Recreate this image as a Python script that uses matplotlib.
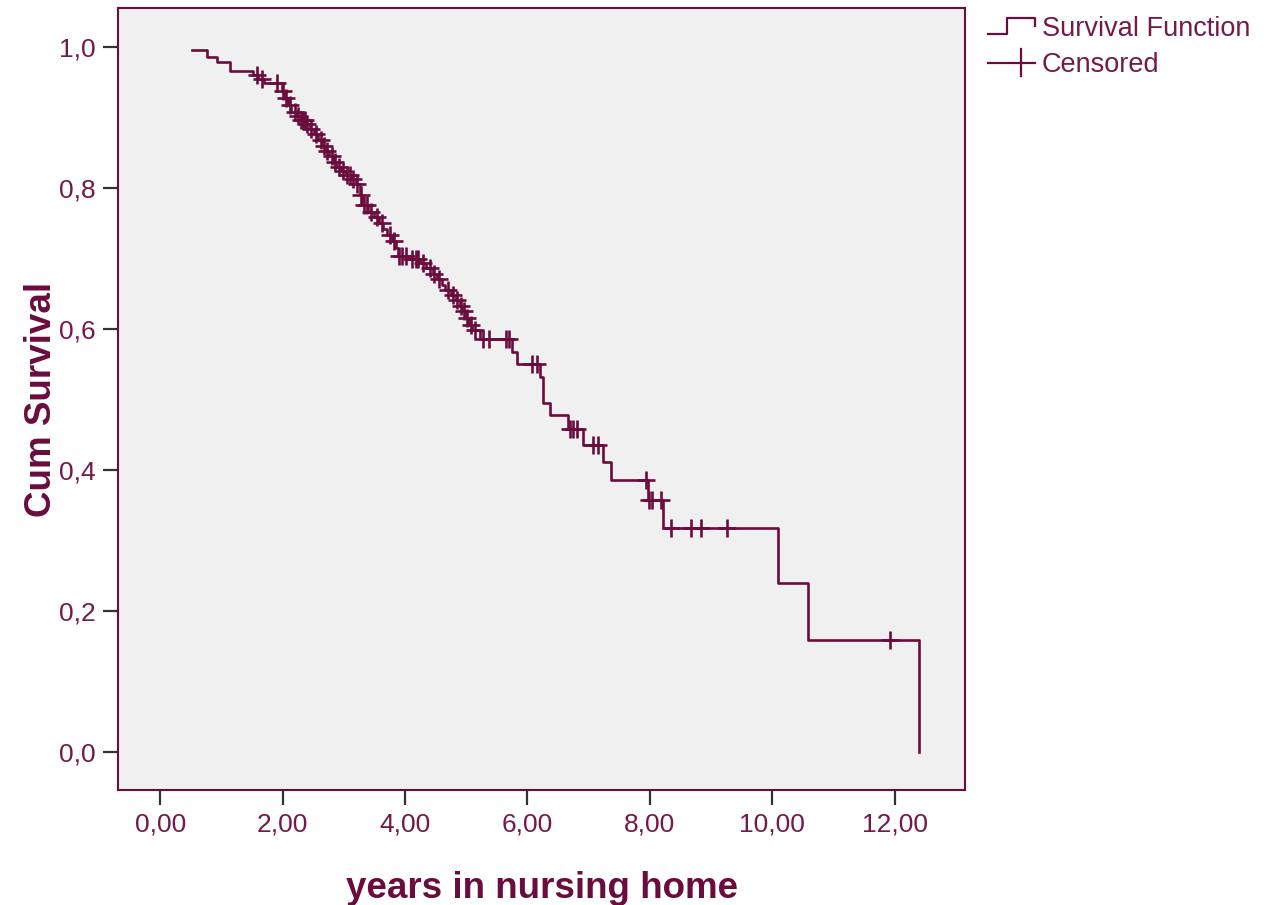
import numpy as np
import matplotlib
matplotlib.use("Agg")
import matplotlib.pyplot as plt
from matplotlib.lines import Line2D
from matplotlib.legend_handler import HandlerBase

# ---- data ----
step_times = [0.52, 0.76, 0.93, 1.14, 1.52, 1.60, 1.69, 1.99, 2.03, 2.08, 2.13, 2.22,
              2.30, 2.38, 2.45, 2.52, 2.58, 2.64, 2.70, 2.76, 2.82, 2.88, 2.95, 3.03,
              3.12, 3.20, 3.27, 3.29, 3.40, 3.50, 3.57, 3.64, 3.70, 3.79, 3.85, 3.88,
              4.08, 4.25, 4.35, 4.45, 4.53, 4.60, 4.66, 4.75, 4.83, 4.90, 4.95, 5.00,
              5.04, 5.10, 5.23, 5.74, 5.83, 6.21, 6.25, 6.37, 6.67, 6.90, 7.23, 7.36,
              7.97, 8.22, 10.09, 10.58, 12.40]
step_surv = [0.995, 0.986, 0.978, 0.966, 0.960, 0.955, 0.948, 0.938, 0.928, 0.918, 0.908, 0.902,
             0.896, 0.890, 0.884, 0.876, 0.868, 0.860, 0.852, 0.845, 0.837, 0.830, 0.824, 0.818,
             0.812, 0.805, 0.790, 0.776, 0.766, 0.758, 0.750, 0.741, 0.733, 0.724, 0.714, 0.704,
             0.699, 0.693, 0.686, 0.678, 0.670, 0.662, 0.655, 0.648, 0.641, 0.633, 0.625, 0.615,
             0.605, 0.598, 0.585, 0.567, 0.550, 0.532, 0.495, 0.478, 0.458, 0.435, 0.411, 0.386,
             0.357, 0.318, 0.239, 0.159, 0.0]
censor_times = [1.58, 1.67, 1.90, 2.01, 2.05, 2.12, 2.20, 2.25, 2.30, 2.33, 2.37, 2.40,
                2.47, 2.55, 2.62, 2.68, 2.72, 2.80, 2.85, 2.92, 2.98, 3.05, 3.10, 3.15,
                3.22, 3.28, 3.33, 3.38, 3.45, 3.55, 3.62, 3.75, 3.82, 3.90, 3.95, 4.02,
                4.12, 4.18, 4.22, 4.30, 4.40, 4.48, 4.55, 4.70, 4.78, 4.85, 4.92, 4.97,
                5.02, 5.08, 5.15, 5.28, 5.37, 5.65, 5.70, 6.08, 6.15, 6.70, 6.75, 6.81,
                7.07, 7.15, 7.94, 7.99, 8.03, 8.19, 8.34, 8.68, 8.84, 9.26, 11.92]
x_ticks = [0, 2, 4, 6, 8, 10, 12]
x_ticklabels = ["0,00", "2,00", "4,00", "6,00", "8,00", "10,00", "12,00"]
y_ticks = [0.0, 0.2, 0.4, 0.6, 0.8, 1.0]
y_ticklabels = ["0,0", "0,2", "0,4", "0,6", "0,8", "1,0"]

MAROON = "#6a0c3c"
TXT = "#741a48"

st = np.array(step_times)
ss = np.array(step_surv)
ct = np.array(censor_times)
idx = np.searchsorted(st, ct, side="right") - 1
cs = ss[idx]

plt.rcParams["font.family"] = ["Liberation Sans", "DejaVu Sans"]

fig = plt.figure(figsize=(12.66, 9.05), dpi=100)
ax = fig.add_axes([118/1266, 1-790/905, (965-118)/1266, (790-8)/905])
ax.set_facecolor("#f0f0f0")

ax.step(st, ss, where="post", color=MAROON, lw=1.9, zorder=3)
ax.plot(ct, cs, linestyle="none", marker="+", markersize=13, markeredgewidth=1.9,
        color=MAROON, zorder=4)

ax.set_xlim(-0.69, 13.15)
ax.set_ylim(-0.054, 1.055)
ax.set_xticks(x_ticks)
ax.set_xticklabels(x_ticklabels)
ax.set_yticks(y_ticks)
ax.set_yticklabels(y_ticklabels)
ax.tick_params(axis="both", direction="out", length=11, width=1.6, color="#333333",
               labelsize=19, labelcolor=TXT, pad=5)
for sp in ax.spines.values():
    sp.set_color(MAROON)
    sp.set_linewidth(1.5)

ax.set_xlabel("years in nursing home", fontsize=26.5, fontweight="bold", color=MAROON, labelpad=25)
ax.set_ylabel("Cum Survival", fontsize=26.5, fontweight="bold", color=MAROON, labelpad=0)


class HandlerStepGlyph(HandlerBase):
    def create_artists(self, legend, orig_handle, xdescent, ydescent, width, height, fontsize, trans):
        x0 = -xdescent
        y0 = -ydescent
        xs = [x0, x0 + 0.4 * width, x0 + 0.4 * width, x0 + width, x0 + width]
        ys = [y0 + 0.1 * height, y0 + 0.1 * height, y0 + 0.95 * height, y0 + 0.95 * height, y0 + 0.5 * height]
        ln = Line2D(xs, ys, color=MAROON, lw=1.6, transform=trans)
        return [ln]


class HandlerCensorGlyph(HandlerBase):
    def create_artists(self, legend, orig_handle, xdescent, ydescent, width, height, fontsize, trans):
        x0 = -xdescent
        y0 = -ydescent
        ln = Line2D([x0, x0 + width], [y0 + 0.5 * height] * 2, color=MAROON, lw=1.6, transform=trans)
        xm = x0 + 0.7 * width
        tk = Line2D([xm, xm], [y0 - 0.2 * height, y0 + 1.2 * height], color=MAROON, lw=1.6, transform=trans)
        return [ln, tk]


h1 = Line2D([], [], color=MAROON)
h2 = Line2D([], [], color=MAROON, marker="+")
leg = ax.legend([h1, h2], ["Survival Function", "Censored"],
                handler_map={h1: HandlerStepGlyph(), h2: HandlerCensorGlyph()},
                loc="upper left", bbox_to_anchor=(1.027, 0.99), frameon=False,
                fontsize=19.5, handlelength=1.75, handletextpad=0.25, labelspacing=0.38,
                borderaxespad=0.0, borderpad=0.0)
for t in leg.get_texts():
    t.set_color(TXT)

fig.savefig("out.png", dpi=100, facecolor="white")
